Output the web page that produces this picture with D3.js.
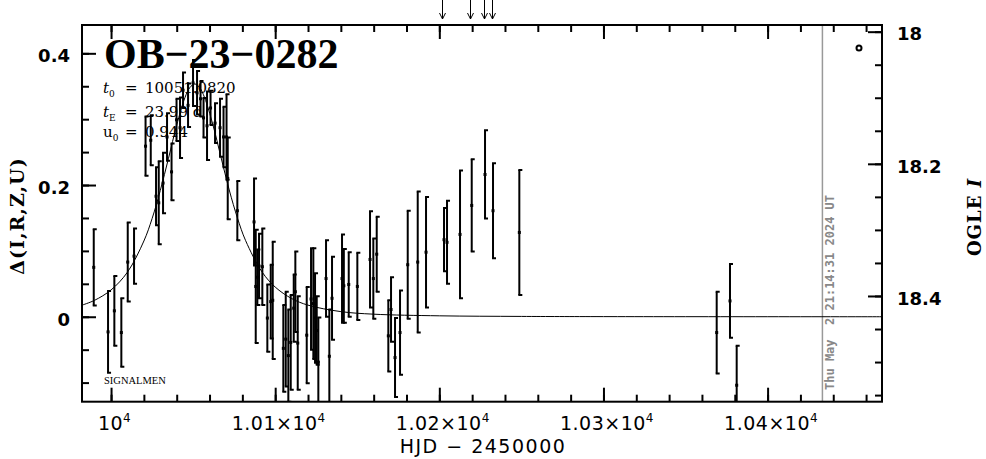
<!DOCTYPE html>
<html>
<head>
<meta charset="utf-8">
<script src="https://cdn.jsdelivr.net/npm/d3@7/dist/d3.min.js"></script>
<style>
  html, body { margin: 0; padding: 0; background: #fff; }
  svg { display: block; }
</style>
</head>
<body>
<svg id="chart" width="986" height="459"></svg>
<script>
// ---------------- DATA ----------------
const eventName = "OB\u221223\u22120282";
const paramT0 = "10051.0820";
const paramTE = "23.99 d";
const paramU0 = "0.944";
const timestampText = "Thu May  2 21:14:31 2024 UT";
const nowHJD = 10433.4;

// observations: HJD-2450000, Delta mag, error
const obsT = [9989.46, 9998.17, 10002.01, 10006.27, 10010.17, 10014.01, 10021.02, 10024.19, 10027.41, 10029.06,
  10031.68, 10034.11, 10036.86, 10039.90, 10042.03, 10043.86, 10046.91, 10049.95, 10052.39, 10054.52,
  10056.35, 10058.48, 10060.62, 10063.36, 10066.40, 10068.53, 10070.36, 10071.09, 10076.94, 10087.12,
  10088.15, 10089.13, 10090.16, 10092.17, 10095.22, 10097.29, 10098.51, 10104.96, 10106.43, 10108.01,
  10109.47, 10111.30, 10112.28, 10113.74, 10119.22, 10121.84, 10123.24, 10124.28, 10125.31, 10126.29,
  10130.98, 10132.99, 10134.63, 10140.72, 10141.82, 10144.81, 10150.05, 10157.78, 10159.79, 10161.86,
  10168.93, 10170.58, 10173.01, 10176.06, 10180.75, 10186.84, 10191.90, 10202.86, 10204.69, 10212.61,
  10219.74, 10227.84, 10232.71, 10248.74, 10368.99, 10377.09, 10381.17];
const obsD = [0.075, -0.023, 0.009, -0.024, 0.083, 0.092, 0.259, 0.268, 0.183, 0.173,
  0.203, 0.273, 0.220, 0.299, 0.287, 0.344, 0.321, 0.355, 0.340, 0.331,
  0.302, 0.290, 0.317, 0.294, 0.287, 0.273, 0.273, 0.210, 0.161, 0.144,
  0.046, 0.060, 0.077, 0.076, -0.002, 0.023, 0.025, -0.048, -0.034, -0.059,
  -0.039, 0.013, 0.038, -0.040, -0.028, 0.027, 0.020, -0.002, -0.021, -0.069,
  0.058, -0.060, 0.028, 0.058, 0.047, 0.049, 0.046, 0.087, 0.058, 0.095,
  -0.029, 0.011, -0.062, -0.024, 0.079, 0.083, 0.098, 0.117, 0.113, 0.125,
  0.169, 0.216, 0.161, 0.128, -0.024, 0.024, -0.104];
const obsE = [0.058, 0.062, 0.053, 0.052, 0.060, 0.042, 0.045, 0.038, 0.044, 0.063,
  0.046, 0.036, 0.043, 0.032, 0.046, 0.027, 0.033, 0.035, 0.033, 0.027,
  0.030, 0.052, 0.026, 0.030, 0.044, 0.046, 0.065, 0.062, 0.045, 0.066,
  0.086, 0.042, 0.049, 0.058, 0.051, 0.056, 0.089, 0.066, 0.072, 0.070,
  0.072, 0.051, 0.061, 0.071, 0.073, 0.077, 0.084, 0.068, 0.052, 0.068,
  0.058, 0.071, 0.063, 0.067, 0.056, 0.049, 0.051, 0.073, 0.061, 0.057,
  0.054, 0.049, 0.060, 0.064, 0.082, 0.107, 0.084, 0.048, 0.063, 0.097,
  0.070, 0.067, 0.072, 0.095, 0.062, 0.056, 0.060];

// model light curve
const modelT = [9982.3, 9990, 10000, 10010, 10020, 10025, 10030, 10035, 10040, 10045, 10048, 10051, 10054,
  10057, 10062, 10067, 10072, 10077, 10082, 10092, 10100, 10110, 10120, 10140, 10160, 10200, 10250, 10300, 10469.7];
const modelD = [0.0176, 0.0250, 0.0407, 0.0677, 0.115, 0.149, 0.1917, 0.2407, 0.291, 0.3326, 0.348, 0.3535, 0.348,
  0.3326, 0.292, 0.242, 0.1925, 0.150, 0.1155, 0.068, 0.0451, 0.0277, 0.0176, 0.0078, 0.0039, 0.0014, 0.0005, 0.0002, 0];

// arrows above the frame (HJD-2450000)
const arrowT = [10201.8, 10218.7, 10227.2, 10231.9];

// axes
const xDomain = [9982.3, 10469.7];
const yDomain = [-0.129, 0.443];
const magDomain = [17.9899, 18.5600];
const xMajor = [10000, 10100, 10200, 10300, 10400];
const xMajorLabels = [["10", "4"], ["1.01\u00d710", "4"], ["1.02\u00d710", "4"], ["1.03\u00d710", "4"], ["1.04\u00d710", "4"]];
const xMinor = d3.range(10000, 10470, 20);
const yMajor = [0, 0.2, 0.4];
const yMajorLabels = ["0", "0.2", "0.4"];
const yMinor = [-0.1, -0.05, 0, 0.05, 0.1, 0.15, 0.2, 0.25, 0.3, 0.35, 0.4];
const magMajor = [18, 18.2, 18.4];
const magMajorLabels = ["18", "18.2", "18.4"];
const magMinor = [18, 18.05, 18.1, 18.15, 18.2, 18.25, 18.3, 18.35, 18.4, 18.45, 18.5, 18.55];

// ---------------- DRAW ----------------
const L = 82, R = 882, T = 25, B = 401.7;
const svg = d3.select("#chart");
const x = d3.scaleLinear().domain(xDomain).range([L, R]);
const y = d3.scaleLinear().domain(yDomain).range([B, T]);
const ym = d3.scaleLinear().domain(magDomain).range([T, B]);

function styleTicks(g) {
  g.select(".domain").remove();
  g.selectAll(".tick line").attr("stroke", "#000").attr("stroke-width", 2);
}

// bottom / top ticks
svg.append("g").attr("transform", `translate(0,${B})`)
  .call(d3.axisBottom(x).tickValues(xMinor).tickSize(-7).tickFormat("")).call(styleTicks);
svg.append("g").attr("transform", `translate(0,${B})`)
  .call(d3.axisBottom(x).tickValues(xMajor).tickSize(-14).tickFormat("")).call(styleTicks);
svg.append("g").attr("transform", `translate(0,${T})`)
  .call(d3.axisTop(x).tickValues(xMinor).tickSize(-7).tickFormat("")).call(styleTicks);
svg.append("g").attr("transform", `translate(0,${T})`)
  .call(d3.axisTop(x).tickValues(xMajor).tickSize(-14).tickFormat("")).call(styleTicks);

// bottom labels
const xl = svg.append("g").attr("transform", `translate(3,${B})`)
  .call(d3.axisBottom(x).tickValues(xMajor).tickSize(0).tickPadding(15).tickFormat(""));
xl.select(".domain").remove();
xl.selectAll(".tick text").each(function(d, i) {
  const t = d3.select(this);
  t.attr("font-family", "DejaVu Sans").attr("font-size", 19).attr("fill", "#000").attr("letter-spacing", 0.5);
  t.append("tspan").text(xMajorLabels[i][0]);
  t.append("tspan").attr("font-size", 12).attr("dy", -8).text(xMajorLabels[i][1]);
});

// left ticks
svg.append("g").attr("transform", `translate(${L},0)`)
  .call(d3.axisLeft(y).tickValues(yMinor).tickSize(-7).tickFormat("")).call(styleTicks);
svg.append("g").attr("transform", `translate(${L},0)`)
  .call(d3.axisLeft(y).tickValues(yMajor).tickSize(-14).tickFormat("")).call(styleTicks);
const yl = svg.append("g").attr("transform", `translate(${L},2.5)`)
  .call(d3.axisLeft(y).tickValues(yMajor).tickSize(0).tickPadding(12).tickFormat((d, i) => yMajorLabels[i]));
yl.select(".domain").remove();
yl.selectAll("text").attr("font-family", "DejaVu Sans").attr("font-weight", "bold").attr("font-size", 18).attr("fill", "#000");

// right ticks
svg.append("g").attr("transform", `translate(${R},0)`)
  .call(d3.axisRight(ym).tickValues(magMinor).tickSize(-7).tickFormat("")).call(styleTicks);
svg.append("g").attr("transform", `translate(${R},0)`)
  .call(d3.axisRight(ym).tickValues(magMajor).tickSize(-14).tickFormat("")).call(styleTicks);
const ml = svg.append("g").attr("transform", `translate(${R},2.5)`)
  .call(d3.axisRight(ym).tickValues(magMajor).tickSize(0).tickPadding(15).tickFormat((d, i) => magMajorLabels[i]));
ml.select(".domain").remove();
ml.selectAll("text").attr("font-family", "DejaVu Sans").attr("font-weight", "bold").attr("font-size", 18).attr("fill", "#000");

// clip for data
svg.append("clipPath").attr("id", "clip").append("rect")
  .attr("x", L).attr("y", T).attr("width", R - L).attr("height", B - T);
const plot = svg.append("g").attr("clip-path", "url(#clip)");

// "now" line
plot.append("line").attr("x1", x(nowHJD)).attr("x2", x(nowHJD)).attr("y1", T).attr("y2", B)
  .attr("stroke", "#999").attr("stroke-width", 1.5);

// model curve
const model = modelT.map((t, i) => [t, modelD[i]]);
plot.append("path").datum(model)
  .attr("d", d3.line().x(d => x(d[0])).y(d => y(d[1])).curve(d3.curveCatmullRom.alpha(0.5)))
  .attr("fill", "none").attr("stroke", "#000").attr("stroke-width", 1);

// error bars
const obs = obsT.map((t, i) => ({ t, d: obsD[i], e: obsE[i] }));
const eb = plot.append("g").attr("stroke", "#000").attr("stroke-width", 2);
obs.forEach(o => {
  const px = x(o.t), y1 = y(o.d + o.e), y2 = y(o.d - o.e), py = y(o.d);
  eb.append("line").attr("x1", px).attr("x2", px).attr("y1", y1).attr("y2", y2);
  eb.append("line").attr("x1", px - 1).attr("x2", px + 3).attr("y1", y1).attr("y2", y1);
  eb.append("line").attr("x1", px - 1).attr("x2", px + 3).attr("y1", y2).attr("y2", y2);
  eb.append("rect").attr("x", px - 1.5).attr("y", py - 1.5).attr("width", 3).attr("height", 3)
    .attr("fill", "#000").attr("stroke", "none");
});

// frame
svg.append("rect").attr("x", L).attr("y", T).attr("width", R - L).attr("height", B - T)
  .attr("fill", "none").attr("stroke", "#000").attr("stroke-width", 2);

// arrows above the frame
const ag = svg.append("g").attr("stroke", "#000").attr("stroke-width", 1).attr("fill", "none");
arrowT.forEach(t => {
  const px = Math.round(x(t)) + 0.5;
  ag.append("line").attr("x1", px).attr("x2", px).attr("y1", 0).attr("y2", 19);
  ag.append("path").attr("d", `M${px - 3},${13} L${px},${19} L${px + 3},${13}`);
});

// legend open circle
svg.append("circle").attr("cx", 859).attr("cy", 48).attr("r", 2.5)
  .attr("fill", "none").attr("stroke", "#000").attr("stroke-width", 2);

// title
svg.append("text").attr("x", 104).attr("y", 68).attr("font-family", "Liberation Serif")
  .attr("font-weight", "bold").attr("font-size", 42).attr("fill", "#000").text(eventName);

// parameters
function paramLine(yb, sym, sub, italic, val) {
  const g = svg.append("g").attr("font-family", "DejaVu Serif").attr("font-size", 15).attr("fill", "#000");
  const t = g.append("text").attr("x", 103).attr("y", yb);
  t.append("tspan").attr("font-style", italic ? "italic" : "normal").text(sym);
  t.append("tspan").attr("font-size", 9).attr("dy", 4).text(sub);
  g.append("text").attr("x", 125).attr("y", yb).text("=");
  g.append("text").attr("x", 145).attr("y", yb).text(val);
}
paramLine(93, "t", "0", true, paramT0);
paramLine(117, "t", "E", true, paramTE);
paramLine(137, "u", "0", false, paramU0);

// SIGNALMEN
svg.append("text").attr("x", 104).attr("y", 384).attr("font-family", "Liberation Serif")
  .attr("font-size", 10.5).attr("fill", "#000").text("SIGNALMEN");

// timestamp
svg.append("text").attr("transform", `translate(834,390) rotate(-90)`)
  .attr("font-family", "DejaVu Sans Mono").attr("font-weight", "bold").attr("font-size", 12)
  .attr("fill", "#888").attr("xml:space", "preserve").style("white-space", "pre").text(timestampText);

// axis titles
svg.append("text").attr("x", 483).attr("y", 453).attr("text-anchor", "middle")
  .attr("font-family", "DejaVu Sans").attr("font-size", 19).attr("letter-spacing", 1.5)
  .attr("fill", "#000").style("white-space", "pre").text("HJD \u2212 2450000");

svg.append("text").attr("transform", "translate(24,216) rotate(-90)").attr("text-anchor", "middle")
  .attr("font-family", "DejaVu Serif").attr("font-weight", "bold").attr("font-size", 19)
  .attr("letter-spacing", 1).attr("fill", "#000").text("\u0394(I,R,Z,U)");

const og = svg.append("text").attr("transform", "translate(981,217) rotate(-90)").attr("text-anchor", "middle")
  .attr("font-family", "DejaVu Serif").attr("font-weight", "bold").attr("font-size", 18)
  .attr("letter-spacing", 1).attr("fill", "#000");
og.append("tspan").text("OGLE ");
og.append("tspan").attr("font-style", "italic").text("I");
</script>
</body>
</html>
